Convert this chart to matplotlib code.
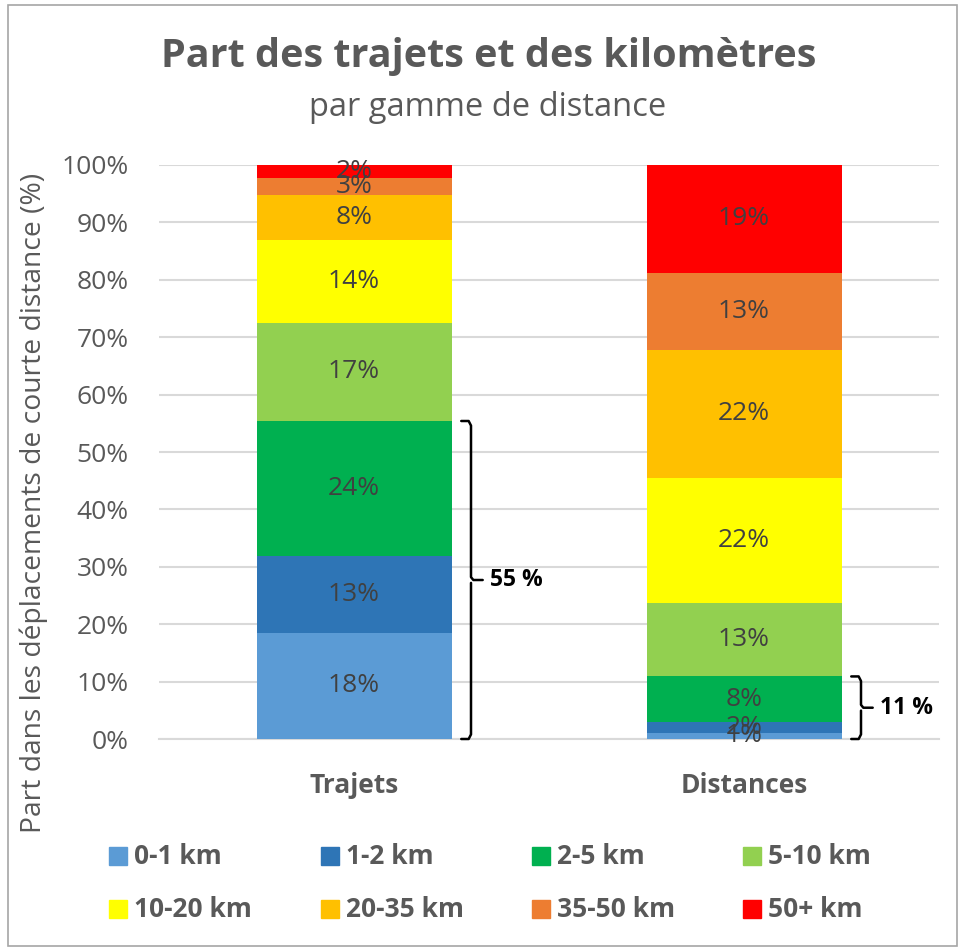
import matplotlib
matplotlib.use("Agg")
import matplotlib.pyplot as plt
from matplotlib.patches import Rectangle
import numpy as np

categories = ["Trajets", "Distances"]
series_names = ["0-1 km", "1-2 km", "2-5 km", "5-10 km", "10-20 km", "20-35 km", "35-50 km", "50+ km"]
trajets = [18.5, 13.4, 23.5, 17.1, 14.4, 7.9, 2.9, 2.3]
distances = [1.1, 1.8, 8.0, 12.8, 21.8, 22.3, 13.4, 18.8]
colors = ["#5b9bd5", "#2e75b6", "#00b050", "#92d050", "#ffff00", "#ffc000", "#ed7d31", "#ff0000"]
yticks = [0, 10, 20, 30, 40, 50, 60, 70, 80, 90, 100]
bracket_groups = 3  # first three distance bands (< 5 km)

plt.rcParams['font.family'] = ['Open Sans', 'DejaVu Sans']

W, H = 959, 947
fig = plt.figure(figsize=(W/100, H/100), dpi=100)
ax = fig.add_axes([159/W, 1-739/H, 780/W, (739-165)/H])

vals = np.array([trajets, distances]).T  # shape series x categories
x = np.arange(len(categories))
bottom = np.zeros(len(categories))
for i, name in enumerate(series_names):
    ax.bar(x, vals[i], 0.5, bottom=bottom, color=colors[i], label=name, zorder=3)
    for j in range(len(categories)):
        ax.text(x[j], bottom[j] + vals[i][j]/2, f"{vals[i][j]:.0f}%", ha='center', va='center',
                fontsize=19, color='#404040', zorder=4)
    bottom += vals[i]

ax.set_xlim(-0.5, 1.5)
ax.set_ylim(0, 100)
ax.set_yticks(yticks)
ax.set_yticklabels([f"{t}%" for t in yticks], fontsize=19, color='#595959')
ax.set_xticks(x)
ax.set_xticklabels(categories, fontsize=19, fontweight='bold', color='#595959')
ax.tick_params(axis='y', length=0, pad=22)
ax.tick_params(axis='x', length=0, pad=24)
ax.grid(axis='y', color='#d9d9d9', linewidth=1.5, zorder=0)
for s in ['top', 'right', 'left']:
    ax.spines[s].set_visible(False)
ax.spines['bottom'].set_color('#d9d9d9')
ax.spines['bottom'].set_linewidth(1.5)
ax.set_ylabel("Part dans les déplacements de courte distance (%)", fontsize=20.3, color='#595959')
ax.yaxis.set_label_coords((48 - 159)/780, (739 - 503)/574)

# brackets
def bracket(xc, top, label):
    x0 = xc + 0.275
    x1 = xc + 0.3
    xm = xc + 0.33
    mid = top / 2
    ax.plot([x0, x1 - 0.006, x1, x1, x1 + 0.006, xm], [top, top, top - 0.8, mid + 0.5, mid, mid],
            color='black', lw=1.8, zorder=5, solid_capstyle='round', clip_on=False)
    ax.plot([x0, x1 - 0.006, x1, x1], [0, 0, 0.8, mid - 0.5], color='black', lw=1.8, zorder=5,
            solid_capstyle='round', clip_on=False)
    ax.text(xm + 0.02, mid, label, ha='left', va='center', fontsize=16.5, fontweight='bold',
            color='black', clip_on=False)

for j in range(len(categories)):
    s = vals[:bracket_groups, j].sum()
    bracket(x[j], s, f"{s:.0f} %")

fig.text(489/W, 1-57/H, "Part des trajets et des kilomètres", ha='center', va='center',
         fontsize=28.5, fontweight='bold', color='#595959')
fig.text(488/W, 1-107/H, "par gamme de distance", ha='center', va='center',
         fontsize=23.5, color='#595959')

# legend: 2 rows x 4 columns, row-major order
leg_x = [109, 321, 532, 743]
leg_y = [856, 909]
for i, (name, c) in enumerate(zip(series_names, colors)):
    r, col = divmod(i, 4)
    px, py = leg_x[col], leg_y[r]
    fig.patches.append(Rectangle((px/W, 1 - (py + 9)/H), 18/W, 18/H,
                                 transform=fig.transFigure, color=c))
    fig.text((px + 25)/W, 1 - py/H, name, ha='left', va='center', fontsize=19,
             fontweight='bold', color='#595959')

fig.patches.append(Rectangle((8/W, 1/H), (W - 10)/W, (H - 6)/H, transform=fig.transFigure,
                             fill=False, edgecolor='#a6a6a6', lw=1.2))

fig.savefig("out.png", dpi=100)
